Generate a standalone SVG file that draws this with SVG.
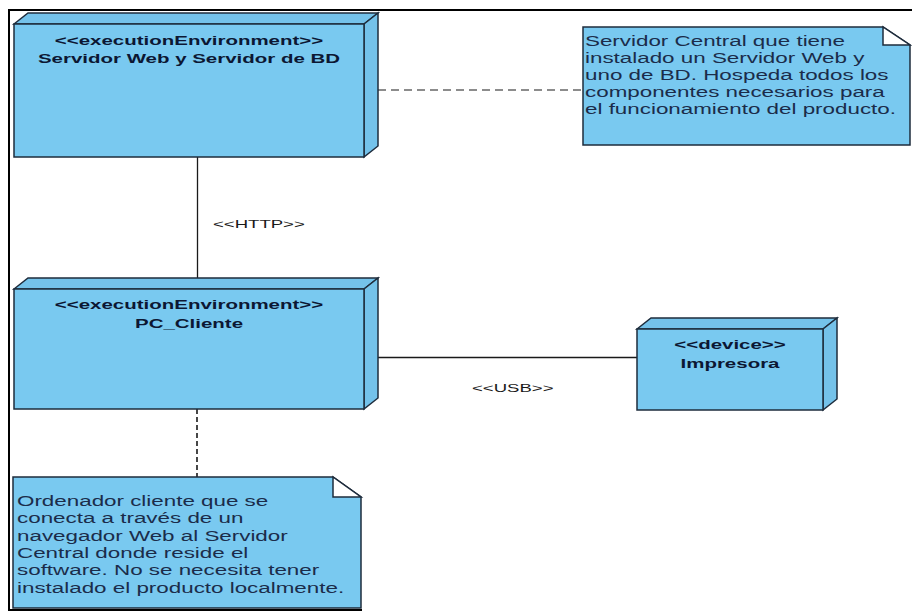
<svg xmlns="http://www.w3.org/2000/svg" width="912" height="613" viewBox="0 0 912 613">
  <style>
    .face { fill: #79C9F0; stroke: #1E2C3C; stroke-width: 1.5; stroke-linejoin: miter; }
    .side { fill: #74C2EA; stroke: #1E2C3C; stroke-width: 1.5; }
    .note { fill: #79C9F0; stroke: #1E2C3C; stroke-width: 1.5; }
    .fold { fill: #FFFFFF; stroke: #1E2C3C; stroke-width: 1.5; }
    .frame { stroke: #000000; stroke-width: 2; fill: none; }
    .link { stroke: #1A1A1A; stroke-width: 1.3; fill: none; }
    .dashh { stroke: #1A1A1A; stroke-width: 1.2; fill: none; stroke-dasharray: 8 5; }
    .dashv { stroke: #1A1A1A; stroke-width: 1.6; fill: none; stroke-dasharray: 5 3; }
    .title { font-family: "Liberation Sans", Arial, sans-serif; font-weight: bold; font-size: 12.8px; fill: #0C1733; text-anchor: middle; }
    .body { font-family: "Liberation Sans", Arial, sans-serif; font-size: 14px; fill: #1B2C4A; }
    .label { font-family: "Liberation Sans", Arial, sans-serif; font-size: 11.6px; fill: #1A1A1A; }
  </style>
  <rect x="0" y="0" width="912" height="613" fill="#FFFFFF"/>

  <!-- window frame -->
  <g id="frame">
    <path class="frame" d="M8,10 H912"/>
    <path class="frame" d="M9,9 V611"/>
    <path class="frame" d="M8,610 H362"/>
  </g>

  <!-- connectors -->
  <g id="connectors">
    <path class="link" d="M197.5,157 V278"/>
    <path class="link" d="M378,357.5 H637"/>
    <path class="dashh" d="M378,90 H583"/>
    <path class="dashv" d="M197,409 V477"/>
    <text class="label" transform="translate(213,228) scale(1.6,1)">&lt;&lt;HTTP&gt;&gt;</text>
    <text class="label" transform="translate(472,392) scale(1.6,1)">&lt;&lt;USB&gt;&gt;</text>
  </g>

  <!-- execution environment: web and database server -->
  <g id="servidor">
    <polygon class="side" points="14,24 28,13 378,13 364,24"/>
    <polygon class="side" points="364,24 378,13 378,146 364,157"/>
    <rect class="face" x="14" y="24" width="350" height="133"/>
    <text class="title" transform="translate(189,45) scale(1.6,1)">&lt;&lt;executionEnvironment&gt;&gt;</text>
    <text class="title" transform="translate(189,63) scale(1.6,1)">Servidor Web y Servidor de BD</text>
  </g>

  <!-- execution environment: client PC -->
  <g id="pc-cliente">
    <polygon class="side" points="14,289 28,278 378,278 364,289"/>
    <polygon class="side" points="364,289 378,278 378,398 364,409"/>
    <rect class="face" x="14" y="289" width="350" height="120"/>
    <text class="title" transform="translate(189,309) scale(1.6,1)">&lt;&lt;executionEnvironment&gt;&gt;</text>
    <text class="title" transform="translate(189,328) scale(1.6,1)">PC_Cliente</text>
  </g>

  <!-- device: printer -->
  <g id="impresora">
    <polygon class="side" points="637,329 651,318 837,318 823,329"/>
    <polygon class="side" points="823,329 837,318 837,399 823,410"/>
    <rect class="face" x="637" y="329" width="186" height="81"/>
    <text class="title" transform="translate(730,349) scale(1.6,1)">&lt;&lt;device&gt;&gt;</text>
    <text class="title" transform="translate(730,368) scale(1.6,1)">Impresora</text>
  </g>

  <!-- note attached to the server -->
  <g id="nota-servidor">
    <path class="note" d="M583,27 H883 L910,45 V145 H583 Z"/>
    <path class="fold" d="M883,27 V45 H910 Z"/>
    <text class="body" transform="translate(585,46) scale(1.6,1)">Servidor Central que tiene</text>
    <text class="body" transform="translate(585,63) scale(1.6,1)">instalado un Servidor Web y</text>
    <text class="body" transform="translate(585,80) scale(1.6,1)">uno de BD. Hospeda todos los</text>
    <text class="body" transform="translate(585,97) scale(1.6,1)">componentes necesarios para</text>
    <text class="body" transform="translate(585,114) scale(1.6,1)">el funcionamiento del producto.</text>
  </g>

  <!-- note attached to the client PC -->
  <g id="nota-cliente">
    <path class="note" d="M13,477 H333 L361,497 V608 H13 Z"/>
    <path class="fold" d="M333,477 V497 H361 Z"/>
    <text class="body" transform="translate(17,506) scale(1.6,1)">Ordenador cliente que se</text>
    <text class="body" transform="translate(17,523) scale(1.6,1)">conecta a través de un</text>
    <text class="body" transform="translate(17,541) scale(1.6,1)">navegador Web al Servidor</text>
    <text class="body" transform="translate(17,558) scale(1.6,1)">Central donde reside el</text>
    <text class="body" transform="translate(17,575) scale(1.6,1)">software. No se necesita tener</text>
    <text class="body" transform="translate(17,593) scale(1.6,1)">instalado el producto localmente.</text>
  </g>
</svg>
